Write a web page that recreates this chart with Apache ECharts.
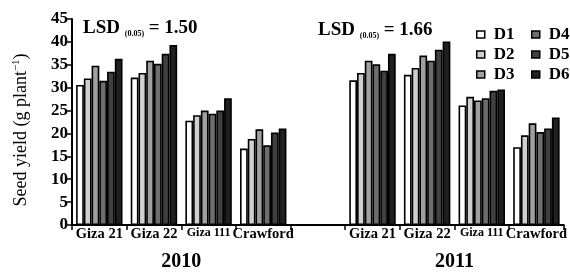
<!DOCTYPE html>
<html>
<head>
<meta charset="utf-8">
<script src="https://cdn.jsdelivr.net/npm/echarts@6/dist/echarts.min.js"></script>
<style>
  html, body { margin: 0; padding: 0; background: #fff; }
  #chart { width: 570px; height: 272px; }
</style>
</head>
<body>
<div id="chart"></div>
<script>
const categories = ['Giza 21', 'Giza 22', 'Giza 111', 'Crawford', '', 'Giza 21', 'Giza 22', 'Giza 111', 'Crawford'];
const yearLabels = ['2010', '2011'];
const seriesNames = ['D1', 'D2', 'D3', 'D4', 'D5', 'D6'];
const barColors = ['#ffffff', '#d0d0d0', '#a0a0a0', '#6e6e6e', '#404040', '#202020'];
const lsdValues = ['1.50', '1.66'];

// seed yield per treatment, 2010 groups, gap, 2011 groups
const d1 = [30.6, 32.2, 22.8, 16.7, null, 31.6, 32.8, 26.1, 17.0];
const d2 = [32.0, 33.2, 24.0, 18.8, null, 33.2, 34.3, 28.0, 19.6];
const d3 = [34.8, 35.9, 25.0, 20.9, null, 35.9, 37.0, 27.2, 22.2];
const d4 = [31.5, 35.2, 24.3, 17.4, null, 35.1, 35.9, 27.7, 20.3];
const d5 = [33.5, 37.4, 25.0, 20.2, null, 33.7, 38.3, 29.3, 21.1];
const d6 = [36.3, 39.3, 27.7, 21.1, null, 37.4, 40.1, 29.6, 23.5];
const values = [d1, d2, d3, d4, d5, d6];

const serif = "'Liberation Serif', 'Times New Roman', serif";

const chart = echarts.init(document.getElementById('chart'));

const series = seriesNames.map(function (name, i) {
    return {
        name: name,
        type: 'bar',
        data: values[i],
        barGap: '0%',
        barCategoryGap: '15%',
        itemStyle: { color: barColors[i], borderColor: '#000', borderWidth: 1.6 }
    };
});

function legendFor(names, left) {
    return {
        data: names,
        orient: 'vertical',
        left: left,
        top: 21,
        itemWidth: 8,
        itemHeight: 7,
        itemGap: 3,
        icon: 'rect',
        selectedMode: false,
        itemStyle: { borderColor: '#000', borderWidth: 1.5 },
        textStyle: { fontFamily: serif, fontSize: 17, fontWeight: 'bold', color: '#000', padding: [0, 0, 0, 4] }
    };
}

const option = {
    animation: false,
    backgroundColor: '#fff',
    grid: { left: 72, right: 6, top: 19, bottom: 46 },
    legend: [legendFor(seriesNames.slice(0, 3), 471), legendFor(seriesNames.slice(3), 526)],
    xAxis: [{
        type: 'category',
        data: categories,
        axisLine: { lineStyle: { color: '#000', width: 2 } },
        axisTick: { show: true, length: 5, lineStyle: { color: '#000', width: 1.5 } },
        axisLabel: {
            interval: 0,
            margin: 2,
            color: '#000',
            fontFamily: serif,
            fontSize: 14.5,
            fontWeight: 'bold',
            formatter: function (v) {
                return v === 'Giza 111' ? '{s|' + v + '}' : v;
            },
            rich: { s: { fontFamily: serif, fontSize: 12, fontWeight: 'bold', color: '#000' } }
        }
    }, {
        type: 'value',
        position: 'bottom',
        min: 0,
        max: categories.length,
        interval: 1,
        axisLine: { show: false },
        axisTick: { show: false },
        splitLine: { show: false },
        axisLabel: {
            margin: 27,
            color: '#000',
            fontFamily: serif,
            fontSize: 20,
            fontWeight: 'bold',
            showMinLabel: true,
            showMaxLabel: true,
            formatter: function (v) {
                if (v === 2) return yearLabels[0];
                if (v === 7) return yearLabels[1];
                return '';
            }
        }
    }],
    yAxis: {
        type: 'value',
        min: 0,
        max: 45,
        interval: 5,
        splitLine: { show: false },
        axisLine: { show: true, lineStyle: { color: '#000', width: 2 } },
        axisTick: { show: true, length: 6, lineStyle: { color: '#000', width: 1.5 } },
        axisLabel: { margin: 4, color: '#000', fontFamily: serif, fontSize: 17, fontWeight: 'bold' }
    },
    graphic: [{
        type: 'text',
        x: 21,
        y: 130,
        rotation: Math.PI / 2,
        style: {
            text: '{a|Seed yield (g plant}{s|\u22121}{a|)}',
            align: 'center',
            verticalAlign: 'middle',
            rich: {
                a: { fontFamily: serif, fontSize: 18, fill: '#000' },
                s: { fontFamily: serif, fontSize: 11, fill: '#000', verticalAlign: 'top', padding: [0, 0, 9, 0] }
            }
        }
    }].concat(lsdValues.map(function (v, i) {
        return {
            type: 'text',
            left: i === 0 ? 83 : 318,
            top: i === 0 ? 19 : 21,
            style: {
                text: '{a|LSD }{b|(0.05)}{a| = ' + v + '}',
                rich: {
                    a: { fontFamily: serif, fontSize: 19, fontWeight: 'bold', fill: '#000' },
                    b: { fontFamily: serif, fontSize: 8, fontWeight: 'bold', fill: '#000', verticalAlign: 'bottom', padding: [6, 0, 0, 0] }
                }
            }
        };
    })),
    series: series
};

chart.setOption(option);
</script>
</body>
</html>
